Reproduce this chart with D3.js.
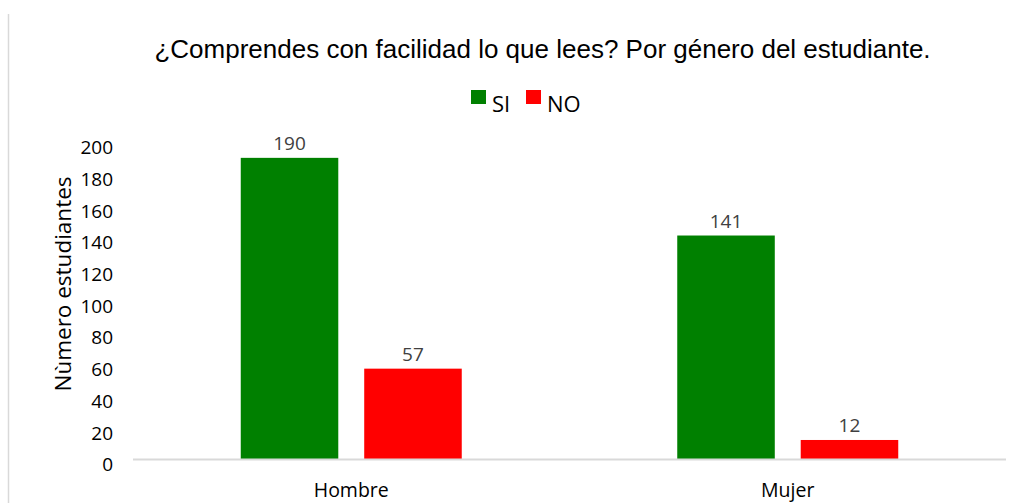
<!DOCTYPE html>
<html>
<head>
<meta charset="utf-8">
<script src="https://cdn.jsdelivr.net/npm/d3@7"></script>
<style>
  body { margin: 0; background: #fff; }
  svg { display: block; }
</style>
</head>
<body>
<script>
const categories = ['Hombre', 'Mujer'];
const seriesNames = ['SI', 'NO'];
const siValues = [190, 141];
const noValues = [57, 12];
const yTicks = [0, 20, 40, 60, 80, 100, 120, 140, 160, 180, 200];

const width = 1023;
const height = 503;
const colors = { SI: '#008000', NO: '#ff0000' };
const labelFont = '"Open Sans", "Noto Sans", sans-serif';

const margin = { top: 142, right: 17, bottom: 44, left: 133 };
const plotW = width - margin.left - margin.right;
const plotH = height - margin.top - margin.bottom;

const svg = d3.select('body').append('svg')
  .attr('width', width)
  .attr('height', height);

// outer frame line on the left
svg.append('line')
  .attr('x1', 8.5).attr('x2', 8.5)
  .attr('y1', 14).attr('y2', height)
  .attr('stroke', '#d9d9d9')
  .attr('stroke-width', 1.5);

svg.append('text')
  .attr('x', 542.5)
  .attr('y', 58)
  .attr('text-anchor', 'middle')
  .attr('font-family', 'Arial, "Liberation Sans", sans-serif')
  .attr('font-size', 26)
  .attr('fill', '#000')
  .text('¿Comprendes con facilidad lo que lees? Por género del estudiante.');

const x0 = d3.scaleBand()
  .domain(categories)
  .range([0, plotW]);

const x1 = d3.scaleBand()
  .domain(seriesNames)
  .range([0, 221])
  .paddingInner(0.21);

const y = d3.scaleLinear()
  .domain([0, 200])
  .range([plotH, plotH - 317]);

const g = svg.append('g')
  .attr('transform', `translate(${margin.left},${margin.top})`);

const rows = categories.map((c, i) => ({ cat: c, SI: siValues[i], NO: noValues[i] }));

// y tick labels (no axis line, no gridlines)
const yAxis = d3.axisLeft(y)
  .tickValues(yTicks)
  .tickSize(0)
  .tickPadding(20);

g.append('g')
  .call(yAxis)
  .call(sel => sel.select('.domain').remove())
  .selectAll('text')
  .attr('font-family', labelFont)
  .attr('font-size', 19)
  .attr('fill', '#000')
  .attr('dy', '0.62em');

const groups = g.selectAll('.cat')
  .data(rows)
  .join('g')
  .attr('class', 'cat')
  .attr('transform', d => `translate(${x0(d.cat) + x0.bandwidth() / 2 - 110.5},0)`);

groups.selectAll('rect')
  .data(d => seriesNames.map(s => ({ s, v: d[s] })))
  .join('rect')
  .attr('x', d => x1(d.s))
  .attr('y', d => y(d.v))
  .attr('width', x1.bandwidth())
  .attr('height', d => plotH - y(d.v))
  .attr('fill', d => colors[d.s]);

groups.selectAll('.val')
  .data(d => seriesNames.map(s => ({ s, v: d[s] })))
  .join('text')
  .attr('class', 'val')
  .attr('x', d => x1(d.s) + x1.bandwidth() / 2)
  .attr('y', d => y(d.v) - 8)
  .attr('text-anchor', 'middle')
  .attr('font-family', labelFont)
  .attr('font-size', 19)
  .attr('fill', '#404040')
  .text(d => d.v);

// baseline
g.append('line')
  .attr('x1', 0).attr('x2', plotW)
  .attr('y1', plotH + 0.5).attr('y2', plotH + 0.5)
  .attr('stroke', '#d9d9d9')
  .attr('stroke-width', 2);

const xAxis = d3.axisBottom(x0).tickSize(0).tickPadding(24);
g.append('g')
  .attr('transform', `translate(0,${plotH})`)
  .call(xAxis)
  .call(sel => sel.select('.domain').remove())
  .selectAll('text')
  .attr('font-family', labelFont)
  .attr('font-size', 19.5)
  .attr('fill', '#000');

// y axis title
svg.append('text')
  .attr('transform', `translate(71,284) rotate(-90)`)
  .attr('text-anchor', 'middle')
  .attr('font-family', labelFont)
  .attr('font-size', 22.5)
  .attr('fill', '#000')
  .text('Nùmero estudiantes');

// legend
const legend = svg.append('g').attr('transform', 'translate(471,90)');
const legendX = [0, 55];
const items = legend.selectAll('g')
  .data(seriesNames)
  .join('g')
  .attr('transform', (d, i) => `translate(${legendX[i]},0)`);

items.append('rect')
  .attr('width', 15).attr('height', 14)
  .attr('fill', d => colors[d]);

items.append('text')
  .attr('x', 21)
  .attr('y', 22)
  .attr('font-family', labelFont)
  .attr('font-size', 22)
  .attr('fill', '#000')
  .text(d => d);
</script>
</body>
</html>
